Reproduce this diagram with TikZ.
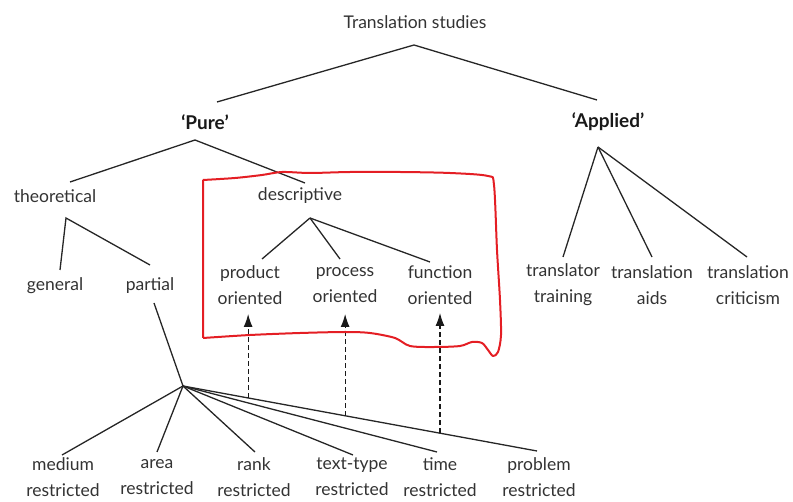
\documentclass[tikz,border=0pt]{standalone}
\usepackage{fontspec}
\setmainfont{Lato}
\usetikzlibrary{calc,arrows.meta}
\definecolor{boxred}{RGB}{228,30,36}
\tikzset{
  lbl/.style={inner sep=0pt, align=center, font=\fontsize{17.5}{26}\selectfont, text=black!80},
  blbl/.style={lbl, font=\fontsize{19}{26}\selectfont\bfseries, text=black!90},
  edge/.style={line width=1.3pt, black!85},
  dasharrow/.style={line width=1.1pt, dashed, dash pattern=on 5pt off 3pt, -{Latex[length=13pt,width=9pt]}, black!90},
  redbox/.style={line width=2pt, boxred, line join=round}
}
\begin{document}
\begin{tikzpicture}[x=1pt,y=-1pt]
\useasboundingbox (0,0) rectangle (793,502);
% nodes
\node[lbl] (ts) at (415,22) {Translation studies};
\node[blbl] (pure) at (205,122) {‘Pure’};
\node[blbl] (appl) at (608,122) {‘Applied’};
\node[lbl] (theo) at (55,196) {theoretical};
\node[lbl] (desc) at (300,196) {descriptive};
\node[lbl] (gen) at (55,286) {general};
\node[lbl] (part) at (150,286) {partial};
\node[lbl] (prod) at (250,285) {product\\oriented};
\node[lbl] (proc) at (345,285) {process\\oriented};
\node[lbl] (func) at (440,285) {function\\oriented};
\node[lbl] (ttr) at (563,285) {translator\\training};
\node[lbl] (tai) at (652,285) {translation\\aids};
\node[lbl] (tcr) at (748,285) {translation\\criticism};
\node[lbl] (med) at (63,477) {medium\\restricted};
\node[lbl] (area) at (157,477) {area\\restricted};
\node[lbl] (rank) at (254,477) {rank\\restricted};
\node[lbl] (tt) at (352,477) {text-type\\restricted};
\node[lbl] (time) at (440,477) {time\\restricted};
\node[lbl] (prob) at (539,477) {problem\\restricted};
% connector ends
\coordinate (tsA) at (414,45);
\coordinate (pureT) at (217,102);
\coordinate (applT) at (597,100);
\coordinate (pureA) at (195,140);
\coordinate (theoT) at (70,182);
\coordinate (descT) at (305,183);
\coordinate (theoA) at (66,218);
\coordinate (genT) at (60,270);
\coordinate (partT) at (150,265);
\coordinate (descA) at (310,218);
\coordinate (prodT) at (262,259);
\coordinate (procT) at (340,259);
\coordinate (funcT) at (430,262);
\coordinate (applA) at (598,147);
\coordinate (ttrT) at (563,257);
\coordinate (taiT) at (652,257);
\coordinate (tcrT) at (747,257);
\coordinate (partB) at (154,303);
\coordinate (hub) at (183,386);
\coordinate (medT) at (62,455);
\coordinate (areaT) at (157,452);
\coordinate (rankT) at (255,452);
\coordinate (ttT) at (353,455);
\coordinate (timeT) at (437,452);
\coordinate (probT) at (537,451);
% tree edges
\draw[edge] (pureT) -- (tsA) -- (applT);
\draw[edge] (theoT) -- (pureA) -- (descT);
\draw[edge] (genT) -- (theoA) -- (partT);
\draw[edge] (descA) -- (prodT);
\draw[edge] (descA) -- (procT);
\draw[edge] (descA) -- (funcT);
\draw[edge] (applA) -- (ttrT);
\draw[edge] (applA) -- (taiT);
\draw[edge] (applA) -- (tcrT);
\draw[edge] (partB) -- (hub);
\foreach \t in {medT,areaT,rankT,ttT,timeT,probT}
  \draw[edge] (hub) -- (\t);
% dashed arrows
\coordinate (a1) at ($(hub)!0.184!(probT)$);
\coordinate (a2) at ($(hub)!0.458!(probT)$);
\coordinate (a3) at ($(hub)!0.726!(probT)$);
\draw[dasharrow] (a1) -- (a1 |- 0,314);
\draw[dasharrow] (a2) -- (a2 |- 0,314);
\draw[dasharrow] (a3) -- (a3 |- 0,313);
% red hand-drawn box
\draw[redbox] (203,338) -- (203,180)
  plot[smooth, tension=0.5] coordinates {(203,180) (235,178) (262,175) (282,172) (310,173) (350,172) (400,172) (450,173) (488,176)
  (494,185) (497,250) (500,300) (501,335) (498,352) (493,356) (488,350) (482,343) (472,342) (460,346) (435,347) (410,346)
  (395,338) (370,333) (345,332) (300,333) (250,335) (203,338)};
\end{tikzpicture}
\end{document}
